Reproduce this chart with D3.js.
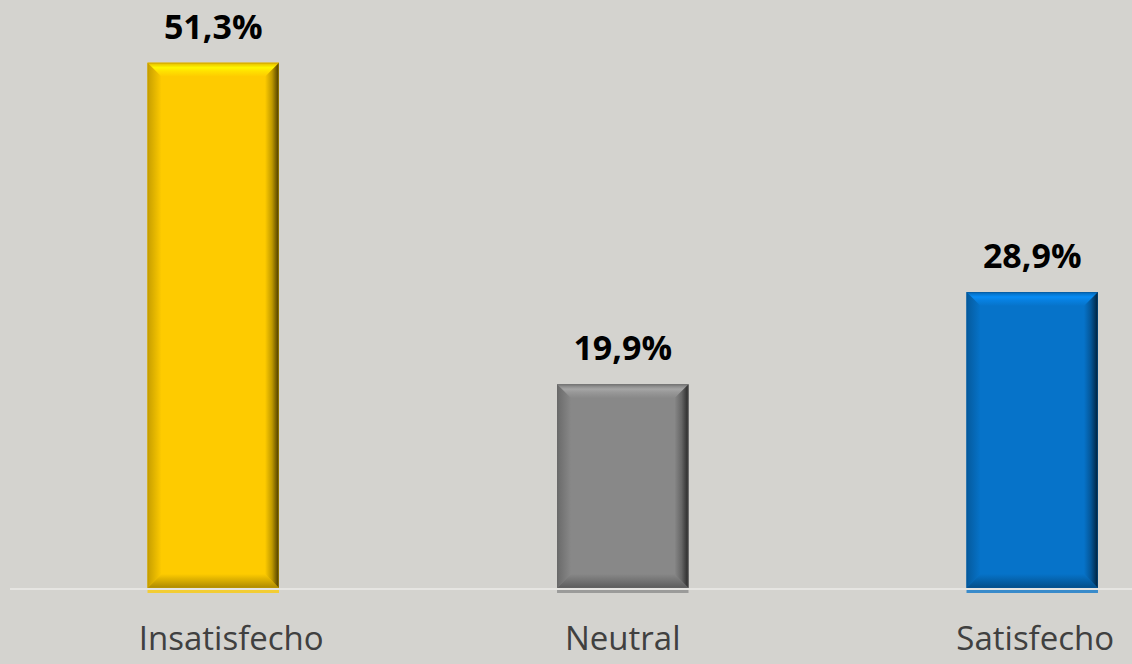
<!DOCTYPE html>
<html>
<head>
<meta charset="utf-8">
<script src="https://cdn.jsdelivr.net/npm/d3@7"></script>
<style>
  html, body { margin: 0; padding: 0; background: #d4d3cf; }
  svg { display: block; }
</style>
</head>
<body>
<svg id="chart" width="1132" height="664"></svg>
<script>
const categories = ["Insatisfecho", "Neutral", "Satisfecho"];
const values = [51.3, 19.9, 28.9];
const valueLabels = ["51,3%", "19,9%", "28,9%"];
const barColors = ["#fecb00", "#888888", "#0673c9"];
const labelShift = [18, 0, 3];

const W = 1132, H = 664;
const svg = d3.select("#chart");

const x = d3.scaleBand()
  .domain(categories)
  .range([8.3, 1237.2])
  .paddingInner(0.679)
  .paddingOuter(0.34);

const y = d3.scaleLinear()
  .domain([0, 57.42])
  .range([588, 0]);

const defs = svg.append("defs");

svg.append("line")
  .attr("x1", 10).attr("x2", W)
  .attr("y1", y(0) + 1).attr("y2", y(0) + 1)
  .attr("stroke", "#e6e5e2").attr("stroke-width", 2);

const b = 14;

categories.forEach((cat, i) => {
  const c = barColors[i];
  const base = d3.color(c);
  const x0 = x(cat), w = x.bandwidth();
  const y0 = y(values[i]), h = y(0) - y(values[i]);
  const g = svg.append("g");

  const id = "g" + i;
  const top = defs.append("linearGradient").attr("id", id + "t")
    .attr("x1", 0).attr("y1", 0).attr("x2", 0).attr("y2", 1);
  top.append("stop").attr("offset", 0).attr("stop-color", base.darker(0.3));
  top.append("stop").attr("offset", 0.35).attr("stop-color", base.brighter(0.55));
  top.append("stop").attr("offset", 0.6).attr("stop-color", base.brighter(0.3));
  top.append("stop").attr("offset", 1).attr("stop-color", base);

  const left = defs.append("linearGradient").attr("id", id + "l")
    .attr("x1", 0).attr("y1", 0).attr("x2", 1).attr("y2", 0);
  left.append("stop").attr("offset", 0).attr("stop-color", base.darker(0.7));
  left.append("stop").attr("offset", 1).attr("stop-color", base);

  const right = defs.append("linearGradient").attr("id", id + "r")
    .attr("x1", 0).attr("y1", 0).attr("x2", 1).attr("y2", 0);
  right.append("stop").attr("offset", 0).attr("stop-color", base);
  right.append("stop").attr("offset", 0.5).attr("stop-color", base.darker(0.8));
  right.append("stop").attr("offset", 1).attr("stop-color", base.darker(3.5));

  const bottom = defs.append("linearGradient").attr("id", id + "b")
    .attr("x1", 0).attr("y1", 0).attr("x2", 0).attr("y2", 1);
  bottom.append("stop").attr("offset", 0).attr("stop-color", base);
  bottom.append("stop").attr("offset", 1).attr("stop-color", base.darker(1.1));

  g.append("rect").attr("x", x0).attr("y", y0).attr("width", w).attr("height", h)
    .attr("fill", c);

  const poly = pts => "M" + pts.map(p => p.join(",")).join("L") + "Z";
  g.append("path").attr("d", poly([[x0, y0], [x0 + w, y0], [x0 + w - b, y0 + b], [x0 + b, y0 + b]]))
    .attr("fill", `url(#${id}t)`);
  g.append("path").attr("d", poly([[x0, y0], [x0 + b, y0 + b], [x0 + b, y0 + h - b], [x0, y0 + h]]))
    .attr("fill", `url(#${id}l)`);
  g.append("path").attr("d", poly([[x0, y0 + h], [x0 + b, y0 + h - b], [x0 + w - b, y0 + h - b], [x0 + w, y0 + h]]))
    .attr("fill", `url(#${id}b)`);
  g.append("path").attr("d", poly([[x0 + w, y0], [x0 + w, y0 + h], [x0 + w - b, y0 + h - b], [x0 + w - b, y0 + b]]))
    .attr("fill", `url(#${id}r)`);
  g.append("rect").attr("x", x0 + 0.5).attr("y", y0 + 0.5).attr("width", w - 1).attr("height", h - 1)
    .attr("fill", "none").attr("stroke", base.darker(0.8)).attr("stroke-opacity", 0.5);

  g.append("rect").attr("x", x0).attr("y", y(0) + 2).attr("width", w).attr("height", 3)
    .attr("fill", c).attr("opacity", 0.75);

  svg.append("text")
    .attr("x", x0 + w / 2)
    .attr("y", y0 - 24)
    .attr("text-anchor", "middle")
    .attr("font-family", "'Open Sans', sans-serif")
    .attr("font-weight", 700)
    .attr("font-size", 34)
    .attr("fill", "#000")
    .text(valueLabels[i]);
});

const axis = svg.append("g")
  .attr("transform", `translate(0, ${y(0)})`)
  .call(d3.axisBottom(x).tickSize(0).tickPadding(39));
axis.select(".domain").remove();
axis.selectAll("text")
  .attr("dx", (d, i) => labelShift[i])
  .attr("font-family", "'Open Sans', sans-serif")
  .attr("font-size", 33)
  .attr("fill", "#404040");
</script>
</body>
</html>
